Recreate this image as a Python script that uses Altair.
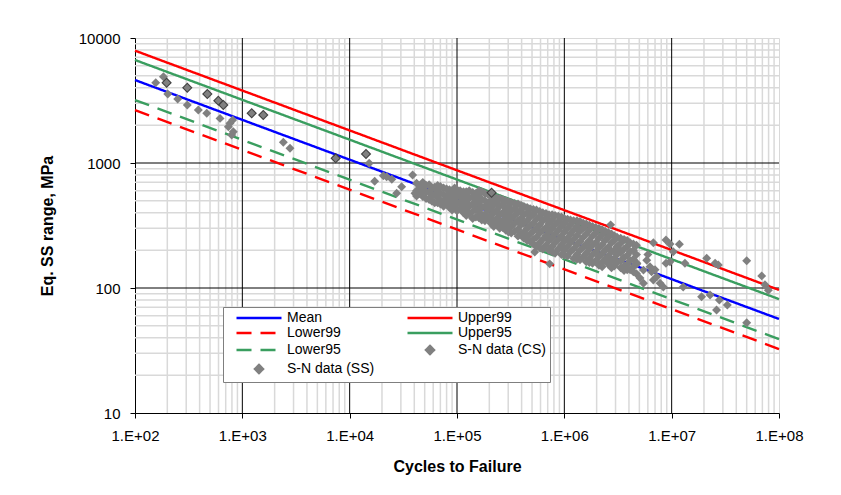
import altair as alt
import pandas as pd

# ---------------- data ----------------
line_cycles = [1e2, 1e8]
mean_vals = [4610, 56.5]
upper99_vals = [7920, 96.5]
upper95_vals = [6670, 81.5]
lower95_vals = [3190, 39.0]
lower99_vals = [2650, 32.5]

ss_cycles = [197, 307, 472, 597, 665, 1222, 1567, 7410, 14200, 210000]
ss_stress = [4390, 4000, 3565, 3155, 2910, 2500, 2420, 1090, 1180, 578]

# scattered / low-cycle CS points
cs_sparse_cycles = [
    156, 184, 202, 250, 307, 389, 466, 620, 741, 767, 796, 813, 824,
    2410, 2780, 15200, 17100, 20600, 22100, 24700, 27400, 30500, 38600, 40600,
    530000, 730000, 2700000, 3300000, 4750000, 5070000, 5460000, 5460000,
    5860000, 6000000, 6280000, 6500000, 6750000, 6750000, 7000000, 7260000,
    7800000, 8360000, 8850000, 8850000, 9650000, 9650000, 10350000, 11800000,
    12800000, 13300000, 19000000, 21200000, 22800000, 25400000, 26200000,
    27200000, 27800000, 33000000, 50000000, 50000000, 69000000, 74000000, 79600000,
]
cs_sparse_stress = [
    4390, 4900, 3565, 3250, 2910, 2655, 2500, 2275, 1953, 2075, 1675, 2210, 1780,
    1465, 1312, 995, 715, 790, 776, 741, 573, 646, 802, 573,
    194, 156, 320, 201, 158, 120, 139, 109,
    167, 185, 148, 135, 230, 116, 140, 123,
    109, 102, 242, 158, 225, 162, 195, 224,
    102, 158, 85, 173, 88, 158, 66.7,
    153, 80, 73, 165, 52.8, 125, 106, 96,
]

# dense CS band, read column by column (cycles, stresses)
cs_band = [
    (42000, [690, 600, 545]),
    (45000, [650, 570]),
    (48000, [700, 620, 540]),
    (51500, [660, 590, 520]),
    (55000, [670, 580, 510]),
    (58500, [620, 545, 495]),
    (62000, [640, 560, 480]),
    (66000, [660, 600, 530, 480]),
    (70000, [650, 570, 500, 470]),
    (75000, [630, 560, 500, 450]),
    (80000, [620, 545, 470]),
    (85000, [610, 570, 500, 440]),
    (90000, [600, 530, 460, 420]),
    (95000, [630, 570, 500, 440]),
    (100000, [610, 540, 470, 415]),
    (107000, [600, 555, 490, 430]),
    (115000, [590, 520, 455, 400]),
    (122000, [590, 550, 480, 420, 380]),
    (130000, [600, 520, 450, 390]),
    (140000, [580, 540, 470, 410, 360]),
    (150000, [570, 500, 430, 370]),
    (160000, [600, 540, 470, 405, 365]),
    (170000, [590, 510, 440, 380, 350]),
    (182000, [570, 500, 450, 390, 345]),
    (195000, [560, 480, 420, 360]),
    (207000, [545, 500, 440, 380, 330]),
    (220000, [530, 465, 400, 345, 310]),
    (235000, [525, 480, 420, 360, 320]),
    (250000, [520, 450, 385, 330, 300]),
    (267000, [510, 465, 400, 345, 305]),
    (285000, [500, 430, 370, 320, 290]),
    (302000, [490, 445, 390, 340, 300, 280]),
    (320000, [480, 415, 360, 310, 275]),
    (345000, [475, 435, 380, 330, 285]),
    (370000, [470, 400, 345, 295, 260]),
    (395000, [460, 420, 360, 320, 270]),
    (420000, [450, 385, 330, 280, 250]),
    (450000, [440, 400, 345, 300, 260, 240]),
    (480000, [430, 370, 315, 270, 235]),
    (515000, [425, 390, 330, 285, 245, 225]),
    (550000, [420, 355, 300, 255, 215]),
    (590000, [410, 375, 320, 275, 230, 210]),
    (630000, [400, 345, 290, 245, 205]),
    (675000, [395, 360, 305, 262, 220]),
    (720000, [385, 330, 280, 240, 200]),
    (770000, [385, 350, 300, 255, 215, 195]),
    (820000, [380, 320, 270, 230, 190]),
    (880000, [375, 340, 290, 245, 205]),
    (940000, [370, 310, 260, 220, 185]),
    (1000000, [360, 330, 280, 238, 200, 183]),
    (1070000, [355, 300, 250, 215, 180]),
    (1140000, [350, 320, 270, 230, 195]),
    (1220000, [345, 290, 245, 205, 172]),
    (1310000, [345, 310, 262, 222, 185, 170]),
    (1400000, [340, 285, 235, 200, 168]),
    (1500000, [330, 300, 255, 212, 178]),
    (1600000, [325, 270, 225, 190, 162]),
    (1710000, [318, 290, 240, 205, 172, 160]),
    (1830000, [310, 260, 220, 185, 158]),
    (1960000, [305, 275, 230, 195, 165]),
    (2100000, [300, 250, 210, 178, 152]),
    (2250000, [292, 265, 222, 188, 160, 148]),
    (2400000, [285, 240, 200, 170]),
    (2570000, [278, 255, 212, 180, 155]),
    (2750000, [270, 230, 195, 165, 145]),
    (2920000, [262, 240, 200, 172, 150]),
    (3100000, [255, 215, 185, 160]),
    (3350000, [250, 228, 192, 165, 145]),
    (3600000, [245, 205, 175, 150, 138]),
    (3850000, [240, 215, 182, 155, 140]),
    (4100000, [230, 195, 165, 140]),
    (4400000, [225, 200, 170, 148, 135]),
    (4700000, [220, 185, 155, 130]),
]

x_ticks = [1e2, 1e3, 1e4, 1e5, 1e6, 1e7, 1e8]
y_ticks = [10, 100, 1000, 10000]
x_major_grid = [1e3, 1e4, 1e5, 1e6, 1e7]
y_major_grid = [100, 1000]
x_minor_grid = [m * 10 ** e for e in range(2, 8) for m in range(2, 10)]
y_minor_grid = [m * 10 ** e for e in range(1, 4) for m in range(2, 10)]

series_names = ["Mean", "Upper99", "Lower99", "Upper95", "Lower95",
                "S-N data (CS)", "S-N data (SS)"]
series_colors = ["#0000FF", "#FF0000", "#FF0000", "#3A9E5F", "#3A9E5F",
                 "#808080", "#808080"]
series_dash = [[1, 0], [1, 0], [15, 9], [1, 0], [15, 9], [1, 0], [1, 0]]
LINE_SYM = "M-4.5,0H4.5"
DIAM_SYM = "M0,-0.8L0.8,0L0,0.8L-0.8,0Z"
series_shapes = [LINE_SYM] * 5 + [DIAM_SYM, DIAM_SYM]

# ---------------- tables ----------------
line_rows = []
for name, vals in [("Mean", mean_vals), ("Upper99", upper99_vals),
                   ("Lower99", lower99_vals), ("Upper95", upper95_vals),
                   ("Lower95", lower95_vals)]:
    for n, s in zip(line_cycles, vals):
        line_rows.append({"series": name, "N": n, "S": s})
lines_df = pd.DataFrame(line_rows)

cs_N = list(cs_sparse_cycles)
cs_S = list(cs_sparse_stress)
for n, svals in cs_band:
    for s in svals:
        cs_N.append(n)
        cs_S.append(s)
cs_df = pd.DataFrame({"N": cs_N, "S": cs_S, "series": "S-N data (CS)"})
ss_df = pd.DataFrame({"N": ss_cycles, "S": ss_stress, "series": "S-N data (SS)"})

FONT = "Liberation Sans"

x_scale = alt.Scale(type="log", domain=[1e2, 1e8])
y_scale = alt.Scale(type="log", domain=[10, 10000])

x_axis = alt.Axis(values=x_ticks, grid=False, title="Cycles to Failure",
                  labelExpr="'1.E+0' + format(round(log(datum.value) / LN10), 'd')",
                  labelFont=FONT, labelFontSize=15, labelColor="black",
                  labelPadding=10, tickSize=5, tickColor="black",
                  domainColor="black", labelFlush=False, labelOverlap=False,
                  titleFont=FONT, titleFontSize=16, titleFontWeight="bold",
                  titleColor="black", titlePadding=15)
y_axis = alt.Axis(values=y_ticks, grid=False, title="Eq. SS range, MPa",
                  format="d", labelFont=FONT, labelFontSize=15,
                  labelColor="black", labelPadding=10, tickSize=5,
                  tickColor="black", domainColor="black", labelOverlap=False,
                  titleFont=FONT, titleFontSize=16, titleFontWeight="bold",
                  titleColor="black", titlePadding=23)

X = alt.X("N:Q", scale=x_scale, axis=x_axis)
Y = alt.Y("S:Q", scale=y_scale, axis=y_axis)

legend = alt.Legend(title=None, orient="none", legendX=88, legendY=269,
                    direction="horizontal", columns=2, columnPadding=23,
                    rowPadding=1, padding=4,
                    labelFont=FONT, labelFontSize=14, labelColor="black",
                    labelLimit=0, symbolSize=100, symbolStrokeWidth=2.5,
                    symbolOffset=25, labelOffset=21,
                    strokeColor="#7f7f7f", fillColor="white")

color = alt.Color("series:N", scale=alt.Scale(domain=series_names, range=series_colors),
                  legend=legend)
dash = alt.StrokeDash("series:N", scale=alt.Scale(domain=series_names, range=series_dash),
                      legend=legend)
shape = alt.Shape("series:N", scale=alt.Scale(domain=series_names, range=series_shapes),
                  legend=legend)

minor_x = alt.Chart(pd.DataFrame({"N": x_minor_grid})).mark_rule(
    color="#d9d9d9", strokeWidth=1.5).encode(x=X)
minor_y = alt.Chart(pd.DataFrame({"S": y_minor_grid})).mark_rule(
    color="#d9d9d9", strokeWidth=1.5).encode(y=Y)
major_x = alt.Chart(pd.DataFrame({"N": x_major_grid})).mark_rule(
    color="#000000", strokeWidth=1).encode(x=X)
major_y = alt.Chart(pd.DataFrame({"S": y_major_grid})).mark_rule(
    color="#000000", strokeWidth=1).encode(y=Y)

fit_lines = alt.Chart(lines_df).mark_line(strokeWidth=2.4).encode(
    x=X, y=Y, color=color, strokeDash=dash, detail="series:N")

cs_pts = alt.Chart(cs_df).mark_point(filled=True, size=125, opacity=1).encode(
    x=X, y=Y, color=color, shape=shape)
ss_outline = alt.Chart(ss_df).mark_point(filled=True, size=110, opacity=1,
                                         shape="diamond", color="#404040").encode(x=X, y=Y)
ss_pts = alt.Chart(ss_df).mark_point(filled=True, size=85, opacity=1).encode(
    x=X, y=Y, color=color, shape=shape)

chart = alt.layer(minor_x, minor_y, major_x, major_y, fit_lines, cs_pts,
                  ss_outline, ss_pts).properties(
    width=644, height=375,
    padding={"left": 135, "top": 38, "right": 62, "bottom": 82},
    autosize=alt.AutoSizeParams(type="none"),
    background="white",
).configure_view(stroke="#d9d9d9", strokeWidth=1)

chart.save("out.html", embed_options={"renderer": "svg", "actions": False})
